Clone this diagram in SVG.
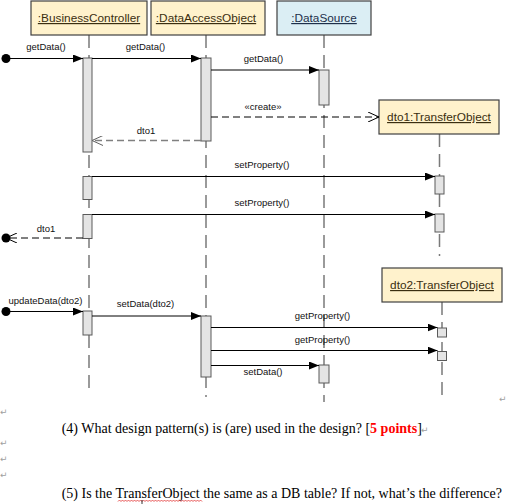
<svg xmlns="http://www.w3.org/2000/svg" width="527" height="504" viewBox="0 0 527 504">
<style>
.hdr{stroke:#404040;stroke-width:1.2}
.yel{fill:#fff2cc}
.blu{fill:#dbeef4}
.ht{font-family:"Liberation Sans",Arial,sans-serif;font-size:11.8px;text-anchor:middle;text-decoration:underline}
.life{stroke:#7a7a7a;stroke-width:1.5;stroke-dasharray:13 7;fill:none}
.act{fill:#e4e4e4;stroke:#5a5a5a;stroke-width:1}
.msg{stroke:#000;stroke-width:1;fill:none}
.dash{stroke:#000;stroke-width:1;fill:none;stroke-dasharray:7 4}
.gdash{stroke:#808080;stroke-width:1.5;fill:none;stroke-dasharray:7 4}
.lbl{font-family:"Liberation Sans",Arial,sans-serif;font-size:9.5px;fill:#111;text-anchor:middle}
.doc{font-family:"Liberation Serif","Times New Roman",serif;font-size:14px;fill:#000}
.pm{font-family:"DejaVu Sans",sans-serif;font-size:9px;fill:#a0a0a0}
</style>
<defs>
<marker id="fill" viewBox="0 0 10 8" refX="10" refY="4" markerWidth="10" markerHeight="8" markerUnits="userSpaceOnUse" orient="auto"><path d="M0,0 L10,4 L0,8 Z" fill="#000"/></marker>
<marker id="open" viewBox="0 0 12 10" refX="11" refY="5" markerWidth="12" markerHeight="10" markerUnits="userSpaceOnUse" orient="auto"><path d="M0,0 L11,5 L0,10" fill="none" stroke="#000" stroke-width="1"/></marker>
<marker id="openg" viewBox="0 0 12 10" refX="11" refY="5" markerWidth="12" markerHeight="10" markerUnits="userSpaceOnUse" orient="auto"><path d="M0,0 L11,5 L0,10" fill="none" stroke="#606060" stroke-width="1"/></marker>
</defs>

<g id="lifelines">
<line class="life" x1="89" y1="35" x2="89" y2="392"/>
<line class="life" x1="206" y1="35" x2="206" y2="397"/>
<line class="life" x1="324" y1="35" x2="324" y2="402"/>
<line class="life" x1="439.5" y1="134" x2="439.5" y2="256"/>
<line class="life" x1="442" y1="302" x2="442" y2="402"/>
</g>

<g id="BusinessController">
<rect class="hdr yel" x="31" y="1" width="116" height="34"/>
<text class="ht" x="89" y="22" fill="#3a2e10">:BusinessController</text>
</g>
<g id="DataAccessObject">
<rect class="hdr yel" x="151" y="1" width="114" height="34"/>
<text class="ht" x="206" y="22" fill="#3a2e10">:DataAccessObject</text>
</g>
<g id="DataSource">
<rect class="hdr blu" x="277" y="1" width="94" height="34"/>
<text class="ht" x="324" y="22" fill="#1d2f4a">:DataSource</text>
</g>
<g id="dto1">
<rect class="hdr yel" x="379" y="100" width="120" height="34"/>
<text class="ht" x="439" y="121" fill="#3a2e10">dto1:TransferObject</text>
</g>
<g id="dto2">
<rect class="hdr yel" x="382" y="268" width="120" height="34"/>
<text class="ht" x="442" y="289" fill="#3a2e10">dto2:TransferObject</text>
</g>

<g id="activations">
<rect class="act" x="83" y="58" width="9" height="94"/>
<rect class="act" x="201" y="58" width="10" height="83"/>
<rect class="act" x="319" y="70" width="10" height="35"/>
<rect class="act" x="83" y="176.5" width="9" height="23"/>
<rect class="act" x="83" y="214.5" width="9" height="24"/>
<rect class="act" x="435" y="176" width="9" height="18"/>
<rect class="act" x="435" y="214" width="9" height="18"/>
<rect class="act" x="83" y="311" width="9" height="24"/>
<rect class="act" x="201" y="316" width="10" height="61"/>
<rect class="act" x="319" y="365" width="10" height="18"/>
<rect class="act" x="437.5" y="328" width="9" height="9"/>
<rect class="act" x="437.5" y="351.5" width="9" height="9"/>
</g>

<g id="connectors">
<circle cx="6" cy="58.5" r="4.5" fill="#000"/>
<line class="msg" x1="6" y1="58.5" x2="83" y2="58.5" marker-end="url(#fill)"/>
<line class="msg" x1="92" y1="58.5" x2="201" y2="58.5" marker-end="url(#fill)"/>
<line class="msg" x1="211" y1="70" x2="319" y2="70" marker-end="url(#fill)"/>
<line class="dash" x1="211" y1="117" x2="379" y2="117" marker-end="url(#open)"/>
<line class="gdash" x1="201" y1="140.5" x2="92" y2="140.5" marker-end="url(#openg)"/>
<line class="msg" x1="92" y1="176.5" x2="435" y2="176.5" marker-end="url(#fill)"/>
<line class="msg" x1="92" y1="214.5" x2="435" y2="214.5" marker-end="url(#fill)"/>
<line class="dash" x1="83" y1="238" x2="6" y2="238" marker-end="url(#open)"/>
<circle cx="6" cy="238" r="4.5" fill="#000"/>
<circle cx="6" cy="311.5" r="4.5" fill="#000"/>
<line class="msg" x1="6" y1="311.5" x2="83" y2="311.5" marker-end="url(#fill)"/>
<line class="msg" x1="92" y1="316" x2="201" y2="316" marker-end="url(#fill)"/>
<line class="msg" x1="211" y1="327.5" x2="437.5" y2="327.5" marker-end="url(#fill)"/>
<line class="msg" x1="211" y1="350.5" x2="437.5" y2="350.5" marker-end="url(#fill)"/>
<line class="msg" x1="211" y1="365.5" x2="319" y2="365.5" marker-end="url(#fill)"/>
</g>

<g id="labels">
<text class="lbl" x="46" y="50">getData()</text>
<text class="lbl" x="145.5" y="50">getData()</text>
<text class="lbl" x="263.5" y="62">getData()</text>
<text class="lbl" x="263" y="110">«create»</text>
<text class="lbl" x="146" y="134">dto1</text>
<text class="lbl" x="262" y="168">setProperty()</text>
<text class="lbl" x="262" y="206">setProperty()</text>
<text class="lbl" x="46" y="232">dto1</text>
<text class="lbl" x="45.5" y="304">updateData(dto2)</text>
<text class="lbl" x="145.5" y="307">setData(dto2)</text>
<text class="lbl" x="322.5" y="319">getProperty()</text>
<text class="lbl" x="322.5" y="343">getProperty()</text>
<text class="lbl" x="263" y="375">setData()</text>
</g>

<g id="document">
<text class="pm" x="499" y="402">↵</text>
<text class="pm" x="0" y="415">↵</text>
<text class="doc" x="61.7" y="433">(4) What design pattern(s) is (are) used in the design? [<tspan font-weight="bold" fill="#ff0000">5 points</tspan>]</text>
<text class="pm" x="421" y="433">↵</text>
<text class="pm" x="0" y="446">↵</text>
<text class="pm" x="0" y="462">↵</text>
<text class="pm" x="0" y="478">↵</text>
<text class="doc" x="61.7" y="498">(5) Is the TransferObject the same as a DB table? If not, what’s the difference?</text>
<path d="M118,501.5 l1.5,-1.5 l1.5,1.5 l1.5,-1.5 l1.5,1.5 l1.5,-1.5 l1.5,1.5 l1.5,-1.5 l1.5,1.5 l1.5,-1.5 l1.5,1.5 l1.5,-1.5 l1.5,1.5 l1.5,-1.5 l1.5,1.5 l1.5,-1.5 l1.5,1.5 l1.5,-1.5 l1.5,1.5 l1.5,-1.5 l1.5,1.5 l1.5,-1.5 l1.5,1.5 l1.5,-1.5 l1.5,1.5 l1.5,-1.5 l1.5,1.5 l1.5,-1.5 l1.5,1.5 l1.5,-1.5 l1.5,1.5 l1.5,-1.5 l1.5,1.5 l1.5,-1.5 l1.5,1.5 l1.5,-1.5 l1.5,1.5 l1.5,-1.5 l1.5,1.5 l1.5,-1.5 l1.5,1.5 l1.5,-1.5 l1.5,1.5 l1.5,-1.5 l1.5,1.5 l1.5,-1.5 l1.5,1.5 l1.5,-1.5 l1.5,1.5 l1.5,-1.5 l1.5,1.5 l1.5,-1.5 l1.5,1.5 l1.5,-1.5 l1.5,1.5 l1.5,-1.5 l1.5,1.5" fill="none" stroke="#e03030" stroke-width="0.8"/>
<line x1="142" y1="500" x2="142" y2="504" stroke="#000" stroke-width="0.8"/>
</g>
</svg>
